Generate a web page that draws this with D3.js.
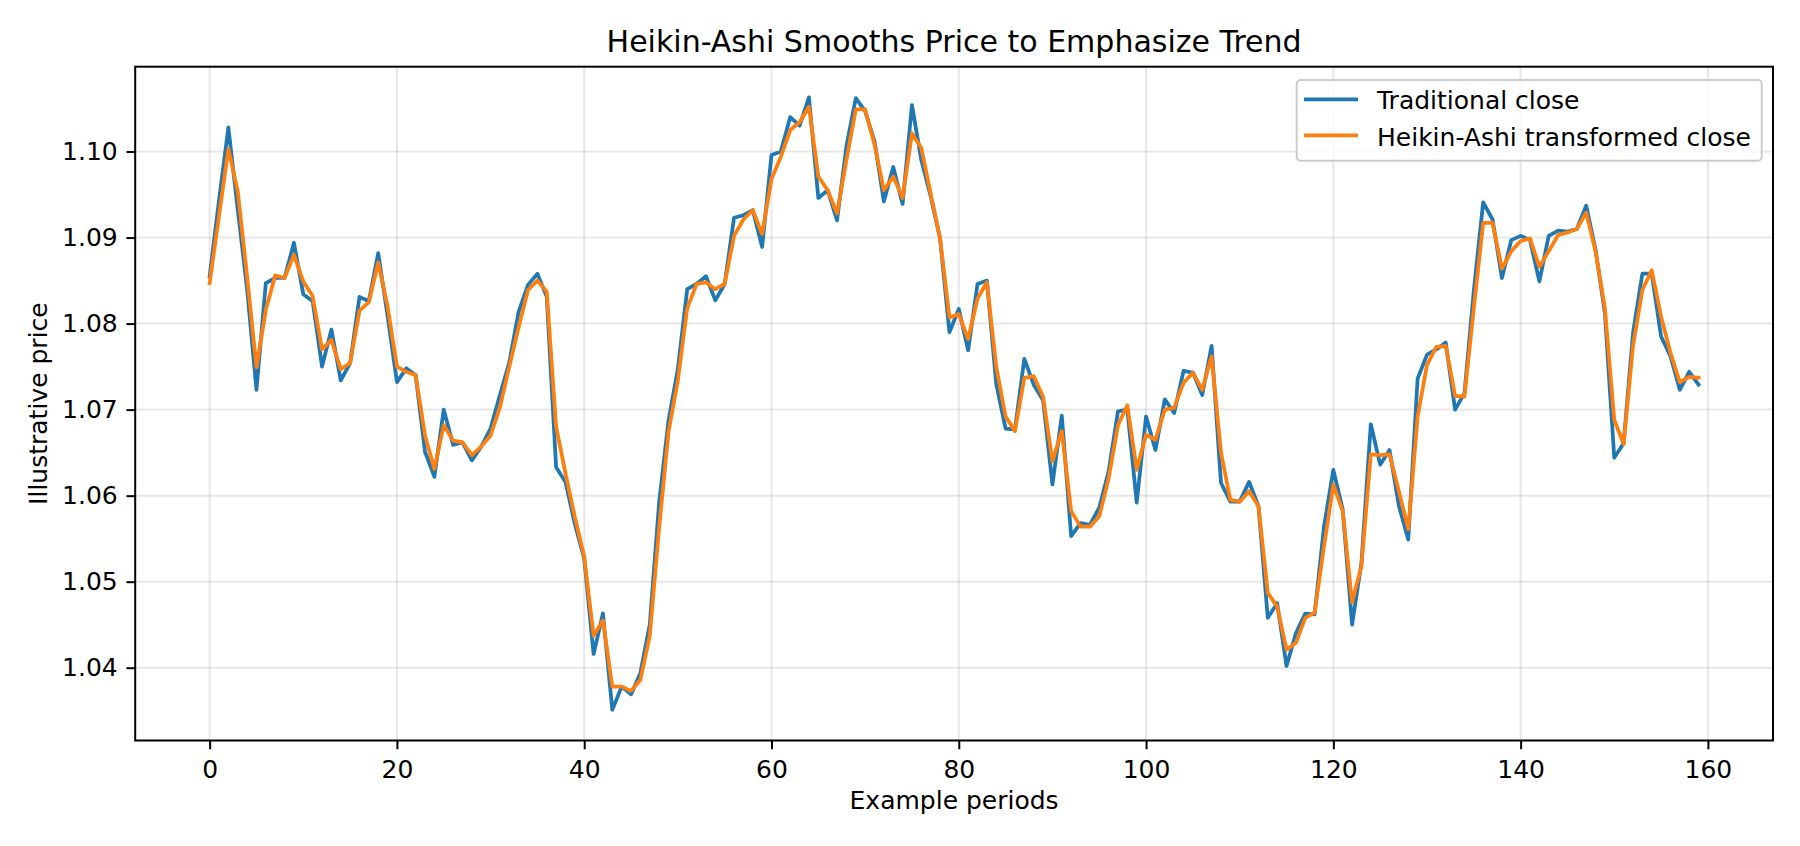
<!DOCTYPE html>
<html>
<head>
<meta charset="utf-8">
<script src="https://cdn.jsdelivr.net/npm/d3@7"></script>
<style>
  html, body { margin: 0; padding: 0; background: #fff; }
  svg { display: block; }
  text { font-family: "DejaVu Sans", sans-serif; fill: #000; }
</style>
</head>
<body>
<svg id="chart" width="1800" height="846"></svg>
<script>
const chartTitle = "Heikin-Ashi Smooths Price to Emphasize Trend";
const xLabel = "Example periods";
const yLabel = "Illustrative price";
const seriesNames = ["Traditional close", "Heikin-Ashi transformed close"];
const seriesColors = ["#1f77b4", "#ff7f0e"];
const xTicks = [0, 20, 40, 60, 80, 100, 120, 140, 160];
const yTicks = [1.04, 1.05, 1.06, 1.07, 1.08, 1.09, 1.10];

const traditionalClose = [
  1.0855, 1.0943, 1.1028, 1.0933, 1.0840, 1.0723, 1.0847, 1.0853, 1.0853, 1.0894,
  1.0834, 1.0826, 1.0750, 1.0793, 1.0734, 1.0754, 1.0831, 1.0826, 1.0882, 1.0809,
  1.0732, 1.0748, 1.0740, 1.0651, 1.0622, 1.0700, 1.0659, 1.0662, 1.0641, 1.0657,
  1.0678, 1.0717, 1.0755, 1.0814, 1.0845, 1.0858, 1.0831, 1.0633, 1.0616, 1.0567,
  1.0527, 1.0416, 1.0463, 1.0351, 1.0378, 1.0369, 1.0394, 1.0450, 1.0592, 1.0687,
  1.0747, 1.0840, 1.0846, 1.0855, 1.0827, 1.0846, 1.0923, 1.0926, 1.0932, 1.0889,
  1.0996, 1.1000, 1.1040, 1.1030, 1.1063, 1.0946, 1.0955, 1.0920, 1.1006, 1.1062,
  1.1047, 1.1012, 1.0942, 1.0982, 1.0939, 1.1054, 1.0990, 1.0948, 1.0899, 1.0790,
  1.0817, 1.0769, 1.0846, 1.0850, 1.0730, 1.0678, 1.0677, 1.0759, 1.0729, 1.0711,
  1.0613, 1.0693, 1.0553, 1.0568, 1.0566, 1.0586, 1.0628, 1.0698, 1.0700, 1.0592,
  1.0692, 1.0653, 1.0712, 1.0696, 1.0745, 1.0743, 1.0717, 1.0774, 1.0615, 1.0593,
  1.0593, 1.0616, 1.0588, 1.0458, 1.0475, 1.0402, 1.0440, 1.0463, 1.0462, 1.0564,
  1.0630, 1.0584, 1.0450, 1.0522, 1.0683, 1.0636, 1.0653, 1.0588, 1.0549, 1.0736,
  1.0764, 1.0770, 1.0778, 1.0700, 1.0719, 1.0838, 1.0941, 1.0921, 1.0853, 1.0897,
  1.0902, 1.0897, 1.0849, 1.0902, 1.0908, 1.0907, 1.0910, 1.0937, 1.0886, 1.0812,
  1.0644, 1.0661, 1.0789, 1.0858, 1.0858, 1.0785, 1.0762, 1.0723, 1.0744, 1.0729
];

const heikinAshiClose = [
  1.0847, 1.0925, 1.1003, 1.0954, 1.0855, 1.0749, 1.0816, 1.0856, 1.0853, 1.0880,
  1.0849, 1.0832, 1.0770, 1.0781, 1.0747, 1.0754, 1.0815, 1.0825, 1.0871, 1.0820,
  1.0750, 1.0744, 1.0740, 1.0670, 1.0631, 1.0682, 1.0664, 1.0662, 1.0647, 1.0657,
  1.0670, 1.0703, 1.0750, 1.0796, 1.0839, 1.0850, 1.0837, 1.0680, 1.0626, 1.0575,
  1.0529, 1.0437, 1.0455, 1.0378, 1.0378, 1.0373, 1.0386, 1.0437, 1.0562, 1.0674,
  1.0734, 1.0818, 1.0846, 1.0848, 1.0840, 1.0846, 1.0902, 1.0921, 1.0932, 1.0904,
  1.0968, 1.0994, 1.1025, 1.1034, 1.1052, 1.0971, 1.0955, 1.0928, 1.0990, 1.1049,
  1.1049, 1.1008, 1.0955, 1.0971, 1.0946, 1.1021, 1.1004, 1.0951, 1.0899, 1.0807,
  1.0811, 1.0782, 1.0829, 1.0848, 1.0750, 1.0692, 1.0675, 1.0737, 1.0739, 1.0715,
  1.0640, 1.0675, 1.0582, 1.0564, 1.0564, 1.0576, 1.0620, 1.0682, 1.0705, 1.0630,
  1.0671, 1.0665, 1.0700, 1.0702, 1.0731, 1.0743, 1.0723, 1.0762, 1.0650, 1.0595,
  1.0593, 1.0605, 1.0588, 1.0487, 1.0471, 1.0421, 1.0429, 1.0458, 1.0464, 1.0541,
  1.0613, 1.0582, 1.0476, 1.0518, 1.0648, 1.0647, 1.0648, 1.0605, 1.0561, 1.0692,
  1.0752, 1.0773, 1.0774, 1.0716, 1.0715, 1.0818, 1.0917, 1.0917, 1.0864, 1.0884,
  1.0896, 1.0899, 1.0866, 1.0884, 1.0903, 1.0906, 1.0910, 1.0929, 1.0884, 1.0818,
  1.0688, 1.0660, 1.0774, 1.0839, 1.0862, 1.0808, 1.0766, 1.0732, 1.0738, 1.0737
];

const series = [traditionalClose, heikinAshiClose];

const svg = d3.select("#chart");
const W = 1800, H = 846;
const plotL = 135.2, plotR = 1773, plotT = 66.7, plotB = 740.5;

const n = traditionalClose.length;
const xPad = (n - 1) * 0.05;
const x = d3.scaleLinear().domain([0 - xPad, (n - 1) + xPad]).range([plotL, plotR]);
const allVals = traditionalClose.concat(heikinAshiClose);
const yMin = d3.min(allVals), yMax = d3.max(allVals);
const yPad = (yMax - yMin) * 0.05;
const y = d3.scaleLinear().domain([yMin - yPad, yMax + yPad]).range([plotB, plotT]);

const fs = 25;
const tickLen = 8.75;

// grid
const grid = svg.append("g");
grid.selectAll("line.vg").data(xTicks).enter().append("line")
  .attr("x1", d => x(d)).attr("x2", d => x(d))
  .attr("y1", plotT).attr("y2", plotB)
  .attr("stroke", "#b0b0b0").attr("stroke-opacity", 0.3).attr("stroke-width", 2);
grid.selectAll("line.hg").data(yTicks).enter().append("line")
  .attr("x1", plotL).attr("x2", plotR)
  .attr("y1", d => y(d)).attr("y2", d => y(d))
  .attr("stroke", "#b0b0b0").attr("stroke-opacity", 0.3).attr("stroke-width", 2);

// lines
svg.append("defs").append("clipPath").attr("id", "clip")
  .append("rect").attr("x", plotL).attr("y", plotT).attr("width", plotR - plotL).attr("height", plotB - plotT);
const lineGen = d3.line().x((d, i) => x(i)).y(d => y(d));
svg.append("g").attr("clip-path", "url(#clip)")
  .selectAll("path").data(series).enter().append("path")
  .attr("d", d => lineGen(d))
  .attr("fill", "none")
  .attr("stroke", (d, i) => seriesColors[i])
  .attr("stroke-width", 3.75)
  .attr("stroke-linejoin", "round")
  .attr("stroke-linecap", "square");

// axes
const xAxis = d3.axisBottom(x).tickValues(xTicks).tickFormat(d3.format("d")).tickSize(tickLen).tickPadding(11.3);
const yAxis = d3.axisLeft(y).tickValues(yTicks).tickFormat(d3.format(".2f")).tickSize(tickLen).tickPadding(8.75);
const gx = svg.append("g").attr("transform", `translate(0,${plotB})`).call(xAxis);
const gy = svg.append("g").attr("transform", `translate(${plotL},0)`).call(yAxis);
[gx, gy].forEach(g => {
  g.select(".domain").remove();
  g.selectAll(".tick line").attr("stroke", "#000").attr("stroke-width", 2);
  g.selectAll(".tick text").attr("font-size", fs).attr("font-family", "DejaVu Sans").attr("fill", "#000");
});

// frame
svg.append("rect").attr("x", plotL).attr("y", plotT)
  .attr("width", plotR - plotL).attr("height", plotB - plotT)
  .attr("fill", "none").attr("stroke", "#000").attr("stroke-width", 2);

// title & labels
svg.append("text").attr("x", (plotL + plotR) / 2).attr("y", 51.7)
  .attr("text-anchor", "middle").attr("font-size", 30).text(chartTitle);
svg.append("text").attr("x", (plotL + plotR) / 2).attr("y", 809)
  .attr("text-anchor", "middle").attr("font-size", fs).text(xLabel);
svg.append("text").attr("transform", `translate(47,${(plotT + plotB) / 2}) rotate(-90)`)
  .attr("text-anchor", "middle").attr("font-size", fs).text(yLabel);

// legend
const lg = svg.append("g");
lg.append("rect").attr("x", 1296.7).attr("y", 80).attr("width", 465).attr("height", 80.7)
  .attr("rx", 4).attr("fill", "#fff").attr("fill-opacity", 0.8)
  .attr("stroke", "#cccccc").attr("stroke-width", 2);
const legendLineY = [99.3, 135.3];
const legendTextY = [109.3, 146];
seriesNames.forEach((name, i) => {
  lg.append("line").attr("x1", 1304).attr("x2", 1358)
    .attr("y1", legendLineY[i]).attr("y2", legendLineY[i])
    .attr("stroke", seriesColors[i]).attr("stroke-width", 3.75);
  lg.append("text").attr("x", 1377).attr("y", legendTextY[i])
    .attr("font-size", fs).text(name);
});
</script>
</body>
</html>
